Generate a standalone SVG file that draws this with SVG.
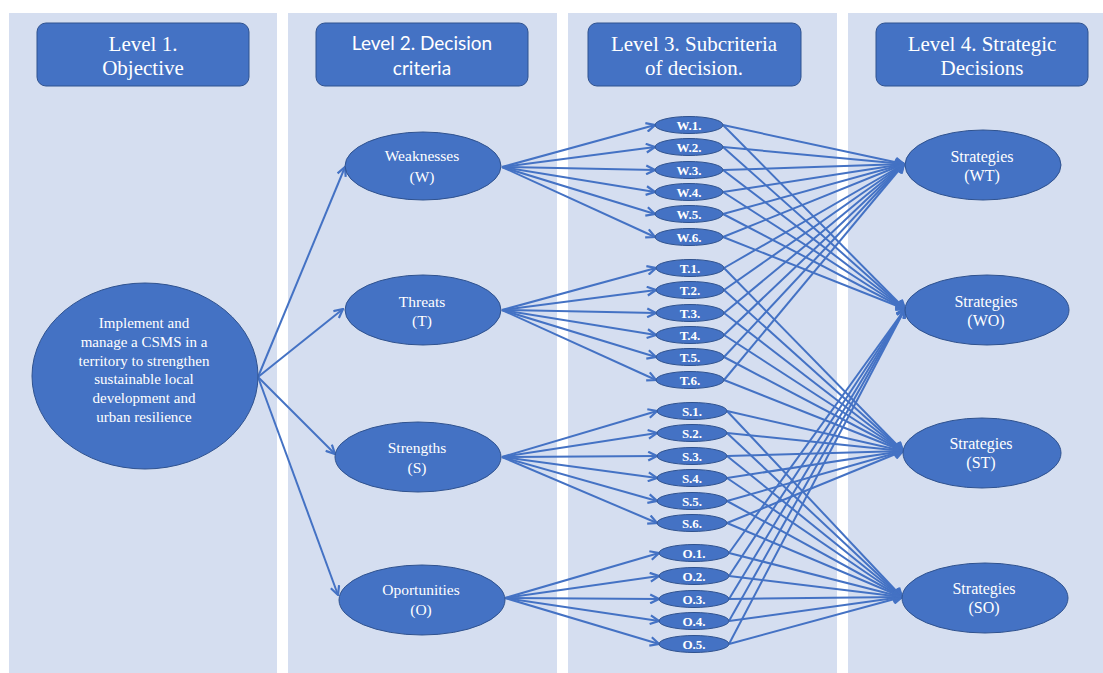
<svg xmlns="http://www.w3.org/2000/svg" width="1103" height="673" viewBox="0 0 1103 673">
<defs>
<style>
.panel{fill:#d5def0}
.hdr{fill:#4472c4;stroke:#2f528f;stroke-width:1}
.nd{fill:#4472c4;stroke:#2f528f;stroke-width:1}
.ts{font-family:"Liberation Serif","Times New Roman",serif;fill:#ffffff;text-anchor:middle}
.tsans{font-family:Lato,"Liberation Sans",sans-serif;fill:#ffffff;text-anchor:middle}
.h{font-size:21px}
.hs{font-size:19px}
.obj{font-size:15px}
.l2{font-size:15.5px}
.st{font-size:16px}
.sub{font-size:13px;font-weight:bold}
.cn line{stroke:#4472c4;stroke-width:2;marker-end:url(#ar)}
</style>
<marker id="ar" viewBox="0 0 10 10" refX="9" refY="5" markerWidth="11" markerHeight="11" orient="auto" markerUnits="userSpaceOnUse">
<path d="M1,1 L9,5 L1,9" fill="none" stroke="#4472c4" stroke-width="2"/>
</marker>
</defs>
<rect width="1103" height="673" fill="#ffffff"/>
<g id="panels">
<rect class="panel" x="9" y="13" width="268" height="660"/>
<rect class="panel" x="288" y="13" width="269" height="660"/>
<rect class="panel" x="568" y="13" width="269" height="660"/>
<rect class="panel" x="848" y="13" width="255" height="660"/>
</g>
<g id="header1"><rect class="hdr" x="37" y="23" width="212" height="63" rx="9"/><text class="ts h" x="143" y="51">Level 1.</text><text class="ts h" x="143" y="75">Objective</text></g>
<g id="header2"><rect class="hdr" x="316" y="23" width="212" height="63" rx="9"/><text class="tsans hs" x="422" y="50">Level 2. Decision</text><text class="tsans hs" x="422" y="75">criteria</text></g>
<g id="header3"><rect class="hdr" x="588" y="23" width="213" height="63" rx="9"/><text class="ts h" x="694" y="51">Level 3. Subcriteria</text><text class="ts h" x="694" y="75">of decision.</text></g>
<g id="header4"><rect class="hdr" x="876" y="23" width="212" height="63" rx="9"/><text class="ts h" x="982" y="51">Level 4. Strategic</text><text class="ts h" x="982" y="75">Decisions</text></g>

<g class="cn" id="connectors">
<line x1="258" y1="377" x2="345" y2="167"/>
<line x1="258" y1="377" x2="343" y2="309"/>
<line x1="258" y1="377" x2="335" y2="454"/>
<line x1="258" y1="377" x2="338" y2="595"/>

<line x1="502" y1="167" x2="655" y2="125"/>
<line x1="502" y1="167" x2="655" y2="147"/>
<line x1="502" y1="167" x2="655" y2="170"/>
<line x1="502" y1="167" x2="655" y2="192"/>
<line x1="502" y1="167" x2="655" y2="214"/>
<line x1="502" y1="167" x2="655" y2="237"/>

<line x1="502" y1="310" x2="656" y2="268"/>
<line x1="502" y1="310" x2="656" y2="290"/>
<line x1="502" y1="310" x2="656" y2="313"/>
<line x1="502" y1="310" x2="656" y2="335"/>
<line x1="502" y1="310" x2="656" y2="357"/>
<line x1="502" y1="310" x2="656" y2="380"/>

<line x1="502" y1="457" x2="657" y2="411"/>
<line x1="502" y1="457" x2="657" y2="433"/>
<line x1="502" y1="457" x2="657" y2="456"/>
<line x1="502" y1="457" x2="657" y2="478"/>
<line x1="502" y1="457" x2="657" y2="501"/>
<line x1="502" y1="457" x2="657" y2="523"/>

<line x1="505" y1="598" x2="659" y2="553"/>
<line x1="505" y1="598" x2="659" y2="576"/>
<line x1="505" y1="598" x2="659" y2="599"/>
<line x1="505" y1="598" x2="659" y2="621"/>
<line x1="505" y1="598" x2="659" y2="644"/>

<line x1="723" y1="125" x2="904" y2="164"/><line x1="723" y1="125" x2="905" y2="309"/>
<line x1="723" y1="147" x2="904" y2="164"/><line x1="723" y1="147" x2="905" y2="309"/>
<line x1="723" y1="170" x2="904" y2="164"/><line x1="723" y1="170" x2="905" y2="309"/>
<line x1="723" y1="192" x2="904" y2="164"/><line x1="723" y1="192" x2="905" y2="309"/>
<line x1="723" y1="214" x2="904" y2="164"/><line x1="723" y1="214" x2="905" y2="309"/>
<line x1="723" y1="237" x2="904" y2="164"/><line x1="723" y1="237" x2="905" y2="309"/>

<line x1="724" y1="268" x2="904" y2="164"/><line x1="724" y1="268" x2="903" y2="451"/>
<line x1="724" y1="290" x2="904" y2="164"/><line x1="724" y1="290" x2="903" y2="451"/>
<line x1="724" y1="313" x2="904" y2="164"/><line x1="724" y1="313" x2="903" y2="451"/>
<line x1="724" y1="335" x2="904" y2="164"/><line x1="724" y1="335" x2="903" y2="451"/>
<line x1="724" y1="357" x2="904" y2="164"/><line x1="724" y1="357" x2="903" y2="451"/>
<line x1="724" y1="380" x2="904" y2="164"/><line x1="724" y1="380" x2="903" y2="451"/>

<line x1="727" y1="411" x2="903" y2="451"/><line x1="727" y1="411" x2="902" y2="597"/>
<line x1="727" y1="433" x2="903" y2="451"/><line x1="727" y1="433" x2="902" y2="597"/>
<line x1="727" y1="456" x2="903" y2="451"/><line x1="727" y1="456" x2="902" y2="597"/>
<line x1="727" y1="478" x2="903" y2="451"/><line x1="727" y1="478" x2="902" y2="597"/>
<line x1="727" y1="501" x2="903" y2="451"/><line x1="727" y1="501" x2="902" y2="597"/>
<line x1="727" y1="523" x2="903" y2="451"/><line x1="727" y1="523" x2="902" y2="597"/>

<line x1="729" y1="553" x2="905" y2="309"/><line x1="729" y1="553" x2="902" y2="597"/>
<line x1="729" y1="576" x2="905" y2="309"/><line x1="729" y1="576" x2="902" y2="597"/>
<line x1="729" y1="599" x2="905" y2="309"/><line x1="729" y1="599" x2="902" y2="597"/>
<line x1="729" y1="621" x2="905" y2="309"/><line x1="729" y1="621" x2="902" y2="597"/>
<line x1="729" y1="644" x2="905" y2="309"/><line x1="729" y1="644" x2="902" y2="597"/>
</g>

<g id="objective"><ellipse class="nd" cx="145" cy="376" rx="113" ry="93"/>
<text class="ts obj" x="144" y="328">Implement and</text>
<text class="ts obj" x="144" y="347">manage a CSMS in a</text>
<text class="ts obj" x="144" y="366">territory to strengthen</text>
<text class="ts obj" x="144" y="384">sustainable local</text>
<text class="ts obj" x="144" y="403">development and</text>
<text class="ts obj" x="144" y="422">urban resilience</text></g>

<g id="weaknesses"><ellipse class="nd" cx="423" cy="166" rx="78" ry="34"/><text class="ts l2" x="422" y="161">Weaknesses</text><text class="ts l2" x="422" y="182">(W)</text></g>
<g id="threats"><ellipse class="nd" cx="423" cy="310" rx="78" ry="35"/><text class="ts l2" x="422" y="307">Threats</text><text class="ts l2" x="422" y="326">(T)</text></g>
<g id="strengths"><ellipse class="nd" cx="418" cy="457" rx="83" ry="35"/><text class="ts l2" x="417" y="453">Strengths</text><text class="ts l2" x="417" y="473">(S)</text></g>
<g id="oportunities"><ellipse class="nd" cx="422" cy="600" rx="83" ry="35"/><text class="ts l2" x="421" y="595">Oportunities</text><text class="ts l2" x="421" y="615">(O)</text></g>

<g id="W1"><ellipse class="nd" cx="689" cy="125" rx="34" ry="8.5"/><text class="ts sub" x="689" y="129.5">W.1.</text></g>
<g id="W2"><ellipse class="nd" cx="689" cy="147" rx="34" ry="8.5"/><text class="ts sub" x="689" y="151.5">W.2.</text></g>
<g id="W3"><ellipse class="nd" cx="689" cy="170" rx="34" ry="8.5"/><text class="ts sub" x="689" y="174.5">W.3.</text></g>
<g id="W4"><ellipse class="nd" cx="689" cy="192" rx="34" ry="8.5"/><text class="ts sub" x="689" y="196.5">W.4.</text></g>
<g id="W5"><ellipse class="nd" cx="689" cy="214" rx="34" ry="8.5"/><text class="ts sub" x="689" y="218.5">W.5.</text></g>
<g id="W6"><ellipse class="nd" cx="689" cy="237" rx="34" ry="8.5"/><text class="ts sub" x="689" y="241.5">W.6.</text></g>
<g id="T1"><ellipse class="nd" cx="690" cy="268" rx="34" ry="8.5"/><text class="ts sub" x="690" y="272.5">T.1.</text></g>
<g id="T2"><ellipse class="nd" cx="690" cy="290" rx="34" ry="8.5"/><text class="ts sub" x="690" y="294.5">T.2.</text></g>
<g id="T3"><ellipse class="nd" cx="690" cy="313" rx="34" ry="8.5"/><text class="ts sub" x="690" y="317.5">T.3.</text></g>
<g id="T4"><ellipse class="nd" cx="690" cy="335" rx="34" ry="8.5"/><text class="ts sub" x="690" y="339.5">T.4.</text></g>
<g id="T5"><ellipse class="nd" cx="690" cy="357" rx="34" ry="8.5"/><text class="ts sub" x="690" y="361.5">T.5.</text></g>
<g id="T6"><ellipse class="nd" cx="690" cy="380" rx="34" ry="8.5"/><text class="ts sub" x="690" y="384.5">T.6.</text></g>
<g id="S1"><ellipse class="nd" cx="692" cy="411" rx="35" ry="8.5"/><text class="ts sub" x="692" y="415.5">S.1.</text></g>
<g id="S2"><ellipse class="nd" cx="692" cy="433" rx="35" ry="8.5"/><text class="ts sub" x="692" y="437.5">S.2.</text></g>
<g id="S3"><ellipse class="nd" cx="692" cy="456" rx="35" ry="8.5"/><text class="ts sub" x="692" y="460.5">S.3.</text></g>
<g id="S4"><ellipse class="nd" cx="692" cy="478" rx="35" ry="8.5"/><text class="ts sub" x="692" y="482.5">S.4.</text></g>
<g id="S5"><ellipse class="nd" cx="692" cy="501" rx="35" ry="8.5"/><text class="ts sub" x="692" y="505.5">S.5.</text></g>
<g id="S6"><ellipse class="nd" cx="692" cy="523" rx="35" ry="8.5"/><text class="ts sub" x="692" y="527.5">S.6.</text></g>
<g id="O1"><ellipse class="nd" cx="694" cy="553" rx="35" ry="8.5"/><text class="ts sub" x="694" y="557.5">O.1.</text></g>
<g id="O2"><ellipse class="nd" cx="694" cy="576" rx="35" ry="8.5"/><text class="ts sub" x="694" y="580.5">O.2.</text></g>
<g id="O3"><ellipse class="nd" cx="694" cy="599" rx="35" ry="8.5"/><text class="ts sub" x="694" y="603.5">O.3.</text></g>
<g id="O4"><ellipse class="nd" cx="694" cy="621" rx="35" ry="8.5"/><text class="ts sub" x="694" y="625.5">O.4.</text></g>
<g id="O5"><ellipse class="nd" cx="694" cy="644" rx="35" ry="8.5"/><text class="ts sub" x="694" y="648.5">O.5.</text></g>

<g id="WT"><ellipse class="nd" cx="983" cy="165" rx="78" ry="35"/><text class="ts st" x="982" y="162">Strategies</text><text class="ts st" x="982" y="181">(WT)</text></g>
<g id="WO"><ellipse class="nd" cx="987" cy="310" rx="82" ry="35"/><text class="ts st" x="986" y="307">Strategies</text><text class="ts st" x="986" y="326">(WO)</text></g>
<g id="ST"><ellipse class="nd" cx="982" cy="453" rx="79" ry="35"/><text class="ts st" x="981" y="449">Strategies</text><text class="ts st" x="981" y="468">(ST)</text></g>
<g id="SO"><ellipse class="nd" cx="985" cy="598" rx="83" ry="35"/><text class="ts st" x="984" y="594">Strategies</text><text class="ts st" x="984" y="613">(SO)</text></g>
</svg>
